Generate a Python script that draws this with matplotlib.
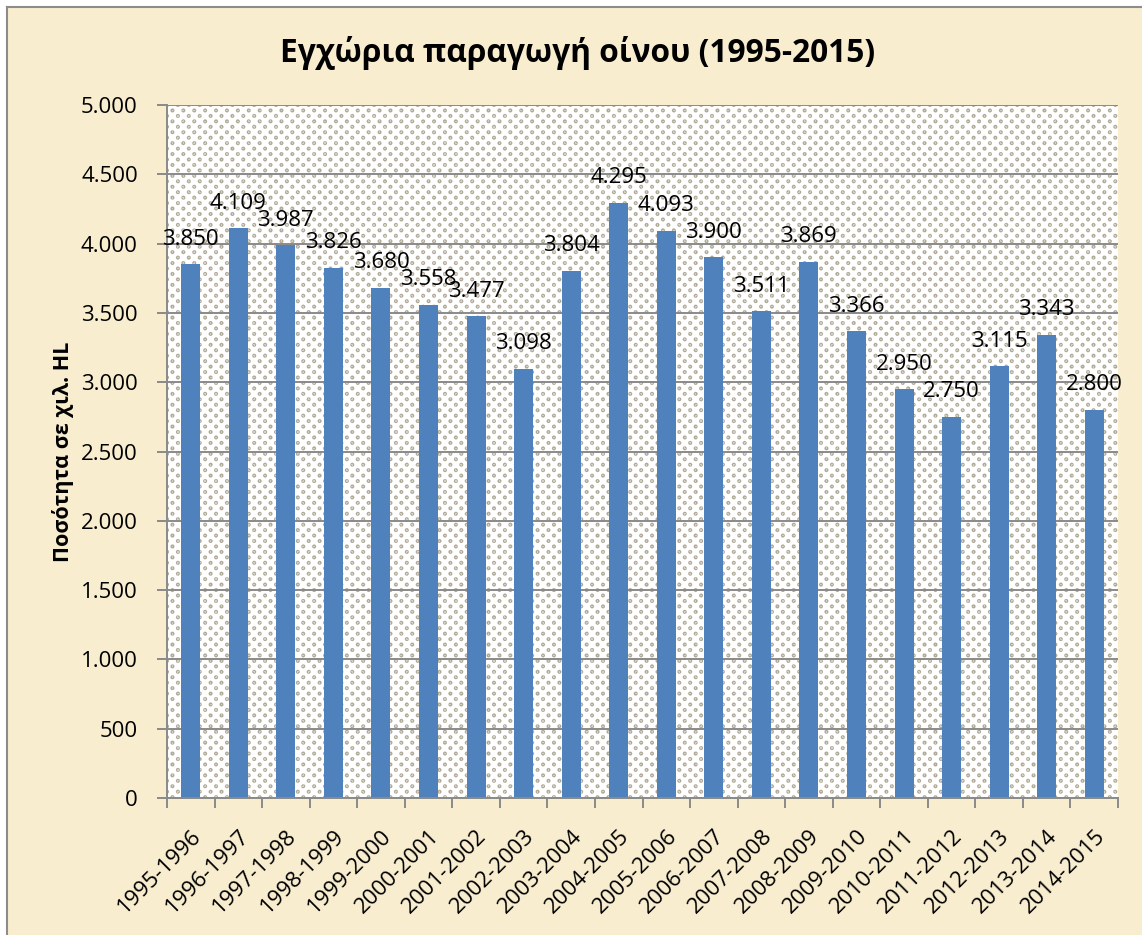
import numpy as np
import matplotlib
matplotlib.use("Agg")
import matplotlib.pyplot as plt
from matplotlib.patches import Rectangle
from matplotlib.lines import Line2D
from matplotlib.ticker import FuncFormatter, FixedLocator

plt.rcParams['font.family'] = ['Open Sans', 'Noto Sans', 'DejaVu Sans']

seasons = ['1995-1996', '1996-1997', '1997-1998', '1998-1999', '1999-2000',
           '2000-2001', '2001-2002', '2002-2003', '2003-2004', '2004-2005',
           '2005-2006', '2006-2007', '2007-2008', '2008-2009', '2009-2010',
           '2010-2011', '2011-2012', '2012-2013', '2013-2014', '2014-2015']
production = [3850, 4109, 3987, 3826, 3680, 3558, 3477, 3098, 3804, 4295,
              4093, 3900, 3511, 3869, 3366, 2950, 2750, 3115, 3343, 2800]

title = 'Εγχώρια παραγωγή οίνου (1995-2015)'
ylabel = 'Ποσότητα σε χιλ. HL'

bar_color = '#4F81BD'
grid_color = '#8A8A8A'
paper = '#F8EDCF'

W, H = 1142, 935
fig = plt.figure(figsize=(W / 100, H / 100), dpi=100, facecolor='white')

# parchment panel with a grey frame on top and left
fig.patches.append(Rectangle((7 / W, 0), 1, 1 - 7 / H, transform=fig.transFigure,
                             facecolor=paper, edgecolor='none', zorder=-10))
fig.lines.append(Line2D([7 / W, 7 / W], [0, 1 - 7 / H], transform=fig.transFigure,
                        color='#8C8C8C', lw=1.5, zorder=-9))
fig.lines.append(Line2D([7 / W, 1], [1 - 7 / H, 1 - 7 / H], transform=fig.transFigure,
                        color='#8C8C8C', lw=1.5, zorder=-9))

left, right, top, bottom = 167, 1118, 105, 798
ax = fig.add_axes([left / W, 1 - bottom / H, (right - left) / W, (bottom - top) / H])
ax.set_facecolor('white')

# dotted fill of the plot area (small rings on a diagonal lattice)
aw, ah = right - left, bottom - top
yy, xx = np.mgrid[0:ah, 0:aw] + 0.5
s = 5.45
a, b = xx / s, yy / s
p, q = (a + b) / 2, (a - b) / 2
dp, dq = p - np.round(p), q - np.round(q)
r = s * np.sqrt(2 * (dp ** 2 + dq ** 2))
alpha = np.clip(2.5 - r, 0, 1) * np.where(r < 0.9, 0.55, 1.0)
dot = np.array([0.70, 0.67, 0.60])
tex = 1 - alpha[..., None] * (1 - dot)

x = np.arange(len(seasons))
ax.imshow(tex, extent=[-0.5, len(seasons) - 0.5, 0, 5000], aspect='auto',
          interpolation='nearest', zorder=0)

ax.bar(x, production, width=0.4, color=bar_color, zorder=2)

for xi, v in zip(x, production):
    ax.annotate(f'{v:,}'.replace(',', '.'), (xi, v), xytext=(0, 18),
                textcoords='offset points', ha='center', va='center',
                fontsize=16, zorder=3)

ax.set_xlim(-0.5, len(seasons) - 0.5)
ax.set_ylim(0, 5000)
ax.set_yticks(np.arange(0, 5001, 500))
ax.yaxis.set_major_formatter(FuncFormatter(lambda v, _: f'{int(v):,}'.replace(',', '.')))
ax.yaxis.grid(True, color=grid_color, lw=1.4)
ax.set_axisbelow(True)

ax.set_xticks(x)
ax.set_xticklabels(seasons, rotation=45, ha='right', rotation_mode='anchor', fontsize=16)
ax.xaxis.set_minor_locator(FixedLocator(np.arange(-0.5, len(seasons), 1)))
ax.tick_params(axis='x', which='major', length=0, pad=20)
ax.tick_params(axis='x', which='minor', length=7, color=grid_color, width=1.4)
ax.tick_params(axis='y', length=7, color=grid_color, width=1.4, labelsize=16, pad=14)

for side in ['top', 'right']:
    ax.spines[side].set_visible(False)
for side in ['left', 'bottom']:
    ax.spines[side].set_color(grid_color)
    ax.spines[side].set_linewidth(1.4)

ax.set_ylabel(ylabel, fontsize=15.5, fontweight='bold', labelpad=5)
fig.text(0.506, 1 - 53 / H, title, ha='center', va='center', fontsize=22.8, fontweight='bold')

fig.savefig('out.png', dpi=100, facecolor=fig.get_facecolor())
